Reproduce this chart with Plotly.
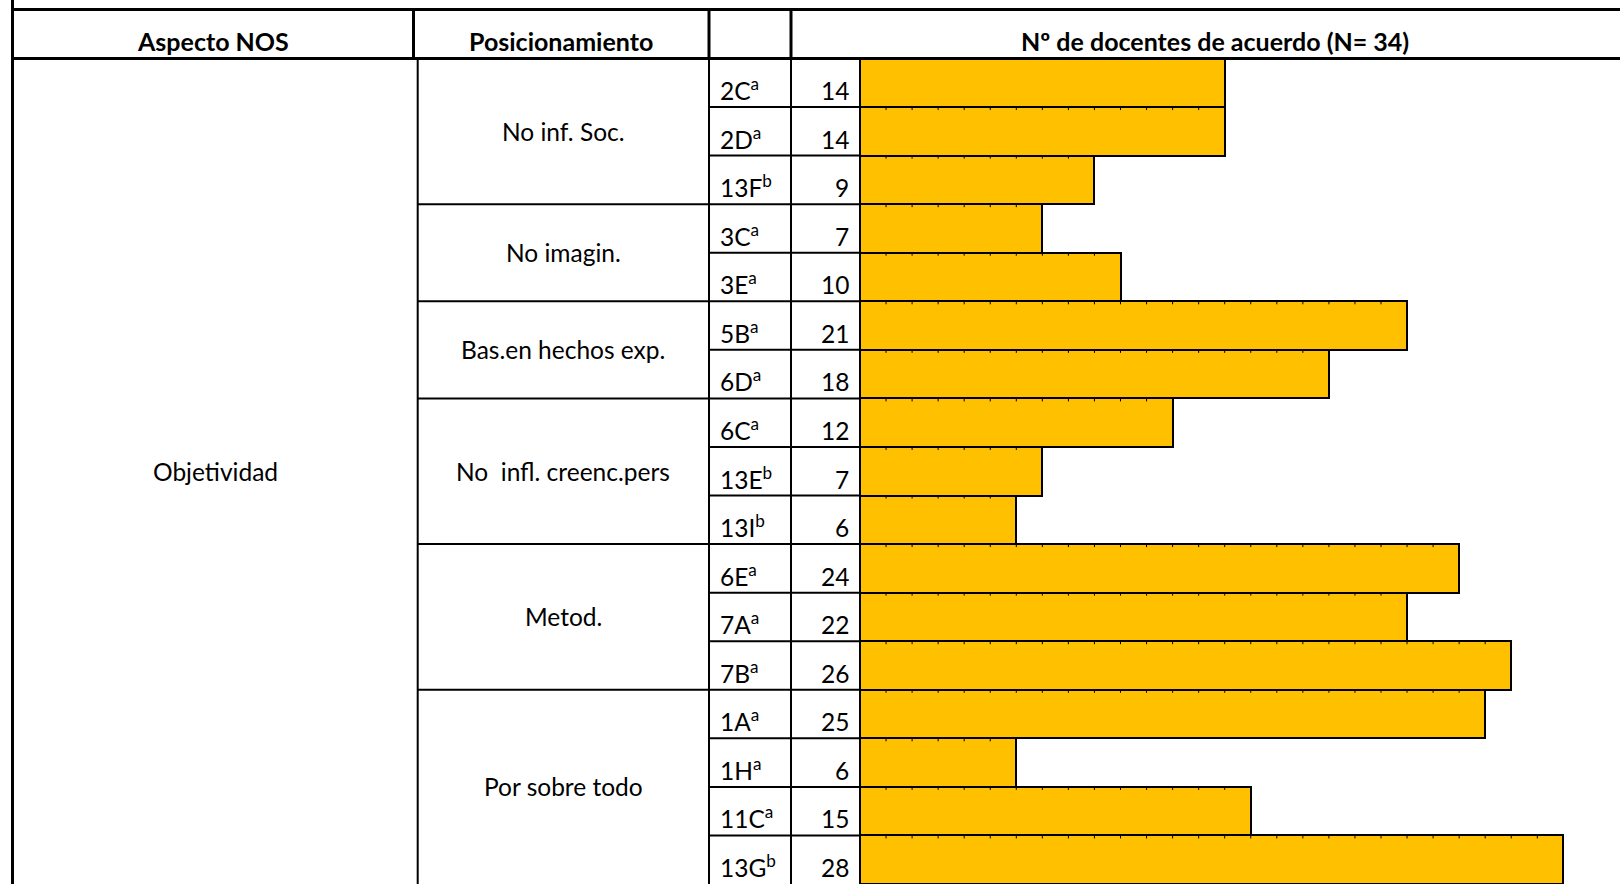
import plotly.graph_objects as go

# ---------------- data ----------------
aspect_label = "Objetividad"
position_labels = ["No inf. Soc.", "No imagin.", "Bas.en hechos exp.",
                   "No\u00a0 infl. creenc.pers", "Metod.", "Por sobre todo"]
position_sizes = [3, 2, 2, 3, 3, 4]
codes = ["2C", "2D", "13F", "3C", "3E", "5B", "6D", "6C", "13E", "13I",
         "6E", "7A", "7B", "1A", "1H", "11C", "13G"]
code_sup = ["a", "a", "b", "a", "a", "a", "a", "a", "b", "b",
            "a", "a", "a", "a", "a", "a", "b"]
counts = [14, 14, 9, 7, 10, 21, 18, 12, 7, 6, 24, 22, 26, 25, 6, 15, 28]
bar_lengths = [14, 14, 9, 7, 10, 21, 18, 12, 7, 6, 23, 21, 25, 24, 6, 15, 27]
headers = ["Aspecto NOS", "Posicionamiento", "", "Nº de docentes de acuerdo (N= 34)"]

# ---------------- geometry (pixels) ----------------
W, H = 1620, 884
ROW_H = 48.56
HEAD_TOP = 9.5
HEAD_BOT = 58.5
X_LEFT = 12.5
X_POS_HEAD = 413.5
X_POS_BODY = 417.7
X_CODE = 709
X_NUM = 791
X_BAR0 = 860
PX_PER_UNIT = 26.05
FONT = "Lato"
BAR_COLOR = "#FFC000"
BODY_SIZE = 24.5
HEAD_SIZE = 25


def py(px):
    return (px - HEAD_BOT) / ROW_H


def pxp(px):
    return px / W


n = len(codes)
yc = [i + 0.5 for i in range(n)]

fig = go.Figure()
fig.add_trace(go.Bar(
    x=bar_lengths, y=yc, orientation="h", width=1,
    marker=dict(color=BAR_COLOR, line=dict(color="black", width=2)),
    hoverinfo="skip", showlegend=False))

# small unit ticks along the top edge of each bar
tx, ty = [], []
for i in range(1, n):
    for k in range(1, bar_lengths[i]):
        tx += [k, k, None]
        ty += [i, i + 3.0 / ROW_H, None]
fig.add_trace(go.Scatter(x=tx, y=ty, mode="lines",
                         line=dict(color="black", width=1),
                         hoverinfo="skip", showlegend=False))

shapes = []


def hline(y_px, x0, x1, w):
    shapes.append(dict(type="line", xref="paper", yref="y",
                       x0=pxp(x0), x1=pxp(x1), y0=py(y_px), y1=py(y_px),
                       line=dict(color="black", width=w)))


def vline(x_px, y0, y1, w):
    shapes.append(dict(type="line", xref="paper", yref="y",
                       x0=pxp(x_px), x1=pxp(x_px), y0=py(y0), y1=py(y1),
                       line=dict(color="black", width=w)))


# outer / header lines
vline(X_LEFT, 0, H, 3)
hline(HEAD_TOP, X_LEFT - 1.5, W, 3)
hline(HEAD_BOT, X_LEFT - 1.5, W, 3)
for xh in (X_POS_HEAD, X_CODE, X_NUM):
    vline(xh, HEAD_TOP, HEAD_BOT, 3)
# body verticals
for xb in (X_POS_BODY, X_CODE, X_NUM):
    vline(xb, HEAD_BOT, H, 2)
# row lines in code/number columns
for i in range(1, n):
    hline(HEAD_BOT + i * ROW_H, X_CODE, X_BAR0, 2)
# group lines in position column
acc = 0
for s in position_sizes[:-1]:
    acc += s
    hline(HEAD_BOT + acc * ROW_H, X_POS_BODY, X_CODE, 2)

annotations = []

# headers
head_centers = [(X_LEFT + X_POS_HEAD) / 2, (X_POS_HEAD + X_CODE) / 2,
                (X_CODE + X_NUM) / 2, 1215]
for txt, cx in zip(headers, head_centers):
    if not txt:
        continue
    annotations.append(dict(text="<b>%s</b>" % txt, x=pxp(cx), y=py(41),
                            xref="paper", yref="y", showarrow=False,
                            xanchor="center", yanchor="middle",
                            font=dict(family=FONT, size=HEAD_SIZE, color="black")))

# aspect
annotations.append(dict(text=aspect_label, x=pxp((X_LEFT + X_POS_BODY) / 2),
                        y=py(HEAD_BOT) + n / 2, xref="paper", yref="y",
                        showarrow=False, xanchor="center", yanchor="middle",
                        font=dict(family=FONT, size=BODY_SIZE, color="black")))
# positions
start = 0
for lab, s in zip(position_labels, position_sizes):
    annotations.append(dict(text=lab, x=pxp((X_POS_BODY + X_CODE) / 2),
                            y=start + s / 2, xref="paper", yref="y",
                            showarrow=False, xanchor="center", yanchor="middle",
                            font=dict(family=FONT, size=BODY_SIZE, color="black")))
    start += s
# codes and counts
for i in range(n):
    annotations.append(dict(text="%s<sup>%s</sup>" % (codes[i], code_sup[i]),
                            x=pxp(X_CODE + 9), y=i + 0.63, xref="paper", yref="y",
                            showarrow=False, xanchor="left", yanchor="middle",
                            font=dict(family=FONT, size=BODY_SIZE, color="black")))
    annotations.append(dict(text=str(counts[i]), x=pxp(X_BAR0 - 9),
                            y=i + 0.66, xref="paper", yref="y",
                            showarrow=False, xanchor="right", yanchor="middle",
                            font=dict(family=FONT, size=BODY_SIZE, color="black")))

fig.update_layout(
    width=W, height=H, autosize=False,
    margin=dict(l=0, r=0, t=0, b=0, pad=0),
    paper_bgcolor="white", plot_bgcolor="rgba(0,0,0,0)",
    xaxis=dict(domain=[pxp(X_BAR0 - 10), 1],
               range=[-10 / PX_PER_UNIT, (W - X_BAR0) / PX_PER_UNIT],
               visible=False, fixedrange=True),
    yaxis=dict(domain=[0, 1], range=[py(H), py(0)], visible=False, fixedrange=True),
    shapes=shapes, annotations=annotations,
    bargap=0, showlegend=False,
)

fig.write_html("out.html", config={"displayModeBar": False},
               post_script="document.body.style.margin='0px';document.body.style.overflow='hidden';")
